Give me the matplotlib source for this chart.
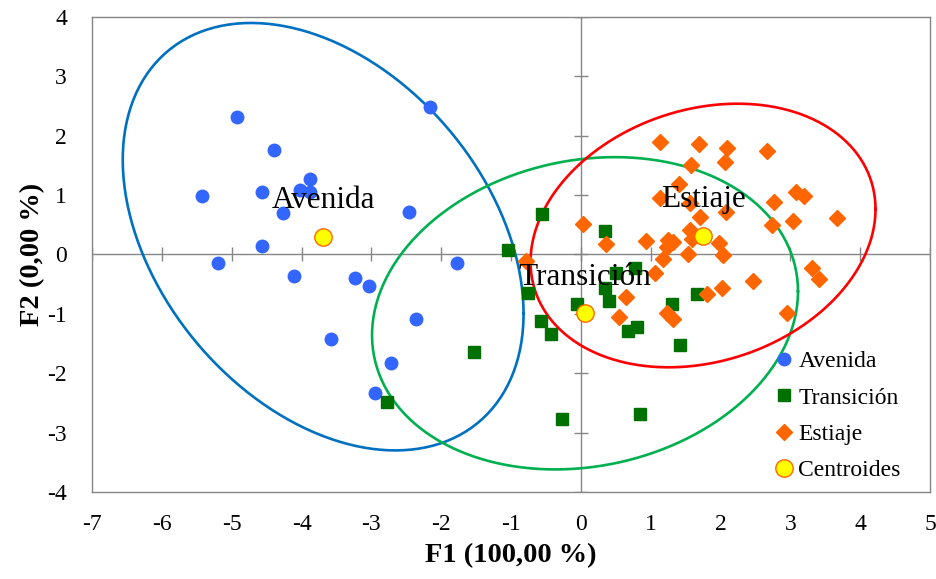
import numpy as np
import matplotlib
matplotlib.use('Agg')
import matplotlib.pyplot as plt

plt.rcParams['font.family'] = ['Liberation Serif', 'DejaVu Serif']
plt.rcParams['axes.unicode_minus'] = False

# scores on F1 / F2 for each hydrological period
avenida_x = [-4.93, -4.40, -3.88, -5.43, -4.57, -4.02, -3.88, -4.26, -2.46, -2.16,
             -4.56, -5.19, -4.11, -3.24, -3.03, -1.77, -2.36, -3.58, -2.72, -2.95]
avenida_y = [2.31, 1.76, 1.28, 0.99, 1.06, 1.09, 1.06, 0.70, 0.72, 2.48,
             0.14, -0.14, -0.37, -0.40, -0.53, -0.14, -1.09, -1.42, -1.83, -2.34]

transicion_x = [-2.77, -1.53, -1.05, -0.55, -0.76, -0.57, -0.43, -0.27, -0.05, 0.35,
                0.51, 0.78, 0.35, 0.41, 0.67, 0.81, 0.85, 1.30, 1.67, 1.42]
transicion_y = [-2.48, -1.64, 0.08, 0.69, -0.65, -1.12, -1.34, -2.77, -0.84, 0.39,
                -0.32, -0.22, -0.57, -0.79, -1.29, -1.22, -2.69, -0.84, -0.66, -1.52]

estiaje_x = [1.13, 1.69, 2.10, 2.67, 1.58, 2.07, 1.40, 1.13, 1.56, 2.08,
             1.71, 2.77, 3.08, 3.19, 3.67, 3.04, 2.74, 0.03, 0.36, 0.94,
             1.25, 1.32, 1.23, 1.57, 1.59, 1.98, 1.53, 2.03, 1.18, 1.06,
             3.31, 3.41, 2.47, 2.02, 1.80, 0.64, 0.55, 1.23, 1.32, 2.95, -0.78]
estiaje_y = [1.90, 1.86, 1.80, 1.75, 1.51, 1.55, 1.18, 0.96, 0.86, 0.72,
             0.63, 0.89, 1.06, 0.99, 0.61, 0.56, 0.50, 0.51, 0.18, 0.23,
             0.24, 0.21, 0.13, 0.41, 0.26, 0.19, 0.00, -0.01, -0.08, -0.32,
             -0.23, -0.42, -0.45, -0.56, -0.67, -0.71, -1.05, -0.99, -1.09, -0.98, -0.11]

grupos = ['Avenida', 'Transición', 'Estiaje']
centro_x = [-3.69, 0.06, 1.75]
centro_y = [0.30, -0.99, 0.32]

# confidence ellipses: spread along F1, F2 and correlation
elip_sx = [2.87, 3.05, 2.47]
elip_sy = [3.60, 2.63, 2.22]
elip_rho = [-0.36, 0.14, 0.20]

xticks = list(range(-7, 6))
yticks = list(range(-4, 5))

gris = '#868686'
fig = plt.figure(figsize=(9.37, 5.79), dpi=100)
ax = fig.add_axes([0.0982, 0.1503, 0.8943, 0.8203])

ax.axhline(0, color=gris, lw=1, zorder=1)
ax.axvline(0, color=gris, lw=1, zorder=1)
ax.plot(xticks, [0] * len(xticks), ls='none', marker='|', ms=10, mew=1, color=gris, zorder=1)
ax.plot([0] * len(yticks), yticks, ls='none', marker='_', ms=10, mew=1, color=gris, zorder=1)

t = np.linspace(0, 2 * np.pi, 300)
for cx, cy, sx, sy, r, c in zip(centro_x, centro_y, elip_sx, elip_sy, elip_rho,
                                ['#0070C0', '#00B050', '#FF0000']):
    cov = np.array([[sx * sx, r * sx * sy], [r * sx * sy, sy * sy]])
    L = np.linalg.cholesky(cov)
    pts = L @ np.vstack([np.cos(t), np.sin(t)])
    ax.plot(cx + pts[0], cy + pts[1], color=c, lw=1.9, zorder=2)

ax.plot(avenida_x, avenida_y, ls='none', marker='o', ms=9, color='#3366FF', label='Avenida', zorder=3)
ax.plot(transicion_x, transicion_y, ls='none', marker='s', ms=8, color='#007000', label='Transición', zorder=3)
ax.plot(estiaje_x, estiaje_y, ls='none', marker='D', ms=8, color='#FF6600', label='Estiaje', zorder=3)
ax.plot(centro_x, centro_y, ls='none', marker='o', ms=12.5, mfc='#FFFF00', mec='#FF6600', mew=1,
        label='Centroides', zorder=4)

for g, cx, cy in zip(grupos, centro_x, centro_y):
    ax.text(cx, cy + 0.48, g, ha='center', va='baseline', fontsize=22.5, zorder=5)

ax.set_xlim(-7, 5)
ax.set_ylim(-4, 4)
ax.set_xticks(xticks)
ax.set_yticks(yticks)
ax.tick_params(length=0, labelsize=17)
ax.tick_params(axis='x', pad=16)
ax.tick_params(axis='y', pad=18)
for s in ax.spines.values():
    s.set_color(gris)
    s.set_linewidth(1)

ax.set_xlabel('F1 (100,00 %)', fontsize=20.5, fontweight='bold')
ax.set_ylabel('F2 (0,00 %)', fontsize=20.5, fontweight='bold')
ax.xaxis.set_label_coords(0.5, -0.108)
ax.yaxis.set_label_coords(-0.056, 0.5)

ax.legend(loc='lower left', bbox_to_anchor=(0.805, 0.0), frameon=False, fontsize=17,
          handlelength=0.6, handletextpad=0.3, labelspacing=0.63, borderaxespad=0.05)

fig.savefig('out.png', dpi=100)
